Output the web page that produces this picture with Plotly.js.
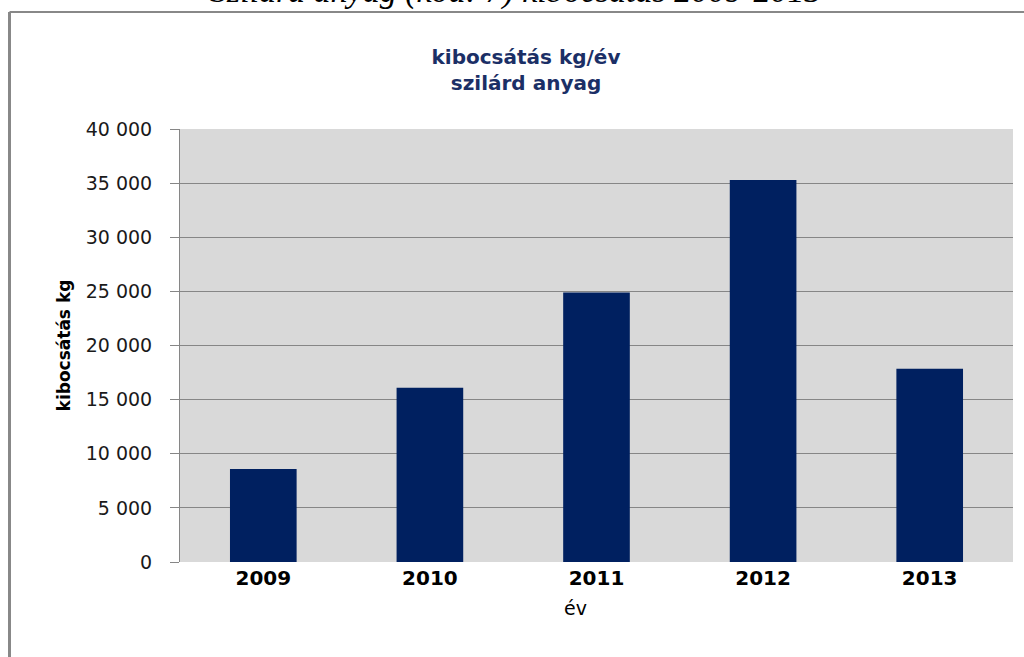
<!DOCTYPE html>
<html>
<head>
<meta charset="utf-8">
<script src="https://cdn.plot.ly/plotly-3.0.1.min.js"></script>
<style>html,body{margin:0;padding:0;background:#fff;}#chart{width:1024px;height:657px;}</style>
</head>
<body>
<div id="chart"></div>
<script>
const years = ['2009', '2010', '2011', '2012', '2013'];
const emissions = [8600, 16100, 24900, 35300, 17850];

const chartTitle = 'kibocsátás kg/év<br>szilárd anyag';
const pageCaption = 'Szilárd anyag (kód: 7) kibocsátás 2009-2013';
const yTitle = 'kibocsátás kg';
const xTitle = 'év';

const W = 1024, H = 657;
const mL = 180, mR = 11, mT = 129, mB = 95;
const pw = W - mL - mR, ph = H - mT - mB;
const px = x => (x - mL) / pw;
const py = y => (H - mB - y) / ph;

const trace = {
  type: 'bar',
  x: years,
  y: emissions,
  width: 0.4,
  marker: {color: '#002060'},
  hoverinfo: 'x+y'
};

const layout = {
  width: W, height: H,
  margin: {l: mL, r: mR, t: mT, b: mB, pad: 0},
  paper_bgcolor: '#ffffff',
  plot_bgcolor: '#d9d9d9',
  separators: ', ',
  showlegend: false,
  title: {
    text: chartTitle,
    font: {family: 'DejaVu Sans', size: 20, color: '#1b2f66', weight: 'bold'},
    x: 526 / W, xanchor: 'center',
    y: 1 - 64 / H, yanchor: 'middle'
  },
  xaxis: {
    type: 'category',
    showgrid: false,
    showline: false,
    ticks: '',
    tickfont: {family: 'DejaVu Sans', size: 20, color: '#000000', weight: 'bold'},
    ticklabelstandoff: 2,
    fixedrange: true
  },
  yaxis: {
    range: [0, 40000],
    dtick: 5000,
    tickformat: ',d',
    showgrid: true,
    gridcolor: '#868686',
    gridwidth: 1,
    zeroline: false,
    showline: true,
    linecolor: '#868686',
    linewidth: 1,
    ticks: 'outside',
    ticklen: 9,
    tickcolor: '#868686',
    tickfont: {family: 'DejaVu Sans', size: 19, color: '#1a1a1a'},
    ticklabelstandoff: 14,
    title: {text: yTitle, font: {family: 'DejaVu Sans', size: 17, color: '#000000', weight: 'bold'}, standoff: 10},
    fixedrange: true
  },
  annotations: [
    {
      text: xTitle, xref: 'paper', yref: 'paper',
      x: px(575), y: py(608), xanchor: 'center', yanchor: 'middle',
      showarrow: false,
      font: {family: 'DejaVu Sans', size: 19, color: '#000000'}
    },
    {
      text: '<i>' + pageCaption + '</i>', xref: 'paper', yref: 'paper',
      x: px(516), y: py(16), xanchor: 'center', yanchor: 'bottom', yshift: 4,
      showarrow: false,
      font: {family: 'Liberation Serif', size: 34, color: '#000000'}
    }
  ],
  shapes: [
    {type: 'line', xref: 'paper', yref: 'paper', x0: px(9.5), x1: px(1024), y0: py(12), y1: py(12), line: {color: '#888888', width: 2}},
    {type: 'line', xref: 'paper', yref: 'paper', x0: px(9.5), x1: px(9.5), y0: py(12), y1: py(657), line: {color: '#888888', width: 3}}
  ]
};

Plotly.newPlot('chart', [trace], layout, {displayModeBar: false, staticPlot: true});
</script>
</body>
</html>
